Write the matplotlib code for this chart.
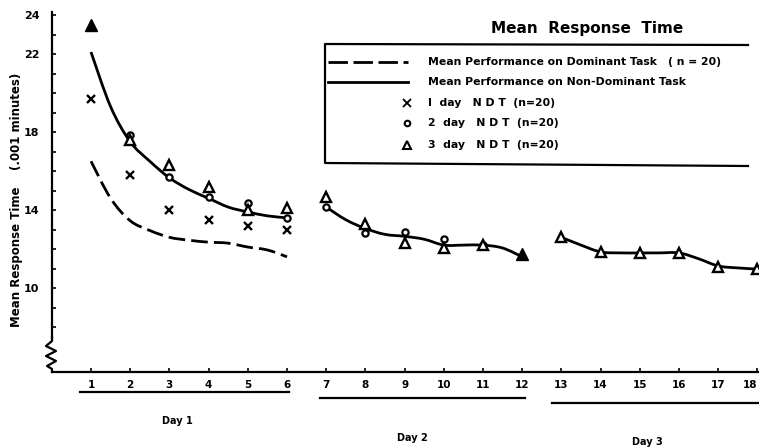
import numpy as np
import matplotlib.pyplot as plt
from matplotlib.lines import Line2D
from matplotlib.path import Path
from matplotlib.patches import PathPatch
from matplotlib import transforms

plt.rcParams['font.family'] = ['DejaVu Sans']

W, H = 759, 448

# readings from the picture
sessions = list(range(1, 19))
one_day_x = [1, 2, 3, 4, 5, 6]
one_day_y = [19.7, 15.8, 14.0, 13.5, 13.2, 13.0]
two_day_x = [2, 3, 4, 5, 6, 7, 8, 9, 10, 11]
two_day_y = [17.85, 15.7, 14.65, 14.35, 13.6, 14.15, 12.8, 12.85, 12.5, 12.2]
three_day_x = [2, 3, 4, 5, 6, 7, 8, 9, 10, 11, 13, 14, 15, 16, 17, 18]
three_day_y = [17.6, 16.3, 15.2, 14.0, 14.1, 14.65, 13.3, 12.3, 12.05, 12.2,
               12.6, 11.85, 11.8, 11.8, 11.1, 10.95]
overlap_x = [1, 12]
overlap_y = [23.5, 11.75]

# curves (every half session)
dom_x = [1, 1.5, 2, 2.5, 3, 3.5, 4, 4.5, 5, 5.5, 6]
dom_y = [16.5, 14.6, 13.45, 12.95, 12.6, 12.45, 12.35, 12.3, 12.1, 11.95, 11.6]
nd1_x = [1, 1.5, 2, 2.5, 3, 3.5, 4, 4.5, 5, 5.5, 6]
nd1_y = [22.1, 19.3, 17.5, 16.5, 15.65, 15.05, 14.6, 14.15, 13.9, 13.7, 13.6]
nd2_x = [7, 7.5, 8, 8.5, 9, 9.5, 10, 10.5, 11, 11.5, 12]
nd2_y = [14.15, 13.5, 13.05, 12.75, 12.65, 12.5, 12.2, 12.2, 12.2, 12.05, 11.6]
nd3_x = [13, 13.5, 14, 14.5, 15, 15.5, 16, 16.5, 17, 17.5, 18]
nd3_y = [12.6, 12.2, 11.85, 11.8, 11.8, 11.8, 11.8, 11.5, 11.13, 11.03, 10.97]

y_ticks = list(range(8, 25))
y_labeled = [10, 14, 18, 22, 24]
days = ['Day 1', 'Day 2', 'Day 3']


def fx(x):
    return x / W


def fy(y):
    return 1 - y / H


def smooth_path(xs, ys):
    # Catmull-Rom through the points, drawn as cubic beziers
    p = np.column_stack([xs, ys]).astype(float)
    pts = np.vstack([p[0], p, p[-1]])
    verts = [p[0]]
    codes = [Path.MOVETO]
    for i in range(1, len(pts) - 2):
        c1 = pts[i] + (pts[i + 1] - pts[i - 1]) / 6
        c2 = pts[i + 1] - (pts[i + 2] - pts[i]) / 6
        verts += [c1, c2, pts[i + 1]]
        codes += [Path.CURVE4] * 3
    return Path(verts, codes)


fig = plt.figure(figsize=(W / 100, H / 100), dpi=100)
ax = fig.add_axes([fx(52), fy(372), fx(W - 52), (372 - 12) / H])
ax.set_xlim(1 - 39 / 39.2, 1 + 668 / 39.2)
ax.set_ylim(24 - 357 / 19.5, 24 + 3 / 19.5)

lw = 2.0
ax.add_patch(PathPatch(smooth_path(dom_x, dom_y), fill=False, ec='black', lw=lw,
                       linestyle=(0, (6, 2.2)), capstyle='butt'))
for cx, cy in [(nd1_x, nd1_y), (nd2_x, nd2_y), (nd3_x, nd3_y)]:
    ax.add_patch(PathPatch(smooth_path(cx, cy), fill=False, ec='black', lw=lw))

ax.plot(one_day_x, one_day_y, 'x', color='black', ms=5.5, mew=1.7, clip_on=False)
ax.plot(two_day_x, two_day_y, 'o', mfc='white', mec='black', ms=4.5, mew=1.6, clip_on=False)
ax.plot(three_day_x, three_day_y, '^', mfc='white', mec='black', ms=6.5, mew=1.7, clip_on=False)
ax.plot(overlap_x, overlap_y, '^', color='black', ms=8, clip_on=False)

# axes styling
for s in ['top', 'right']:
    ax.spines[s].set_visible(False)
ax.spines['left'].set_linewidth(1.6)
ax.spines['bottom'].set_linewidth(1.6)
ax.spines['left'].set_bounds(24 - 323 / 19.5, 24 + 3 / 19.5)

ax.set_yticks(y_ticks)
ax.set_yticklabels([str(v) if v in y_labeled else '' for v in y_ticks],
                   fontsize=8, fontweight='bold')
ax.set_xticks(sessions)
ax.set_xticklabels([str(s) for s in sessions], fontsize=7.5, fontweight='bold')
ax.get_xticklabels()[-1].set_horizontalalignment('right')  # keep "18" inside the edge
ax.tick_params(axis='both', direction='in', length=3, width=1.2)
ax.tick_params(axis='y', pad=9)
ax.tick_params(axis='x', pad=6)

# axis break zigzag
zx = [52, 52, 46, 56, 46, 56, 47, 52, 52]
zy = [337, 341, 346, 351, 356, 361, 366, 369, 372]
fig.add_artist(Line2D([fx(v) for v in zx], [fy(v) for v in zy], color='black', lw=1.6))

fig.text(fx(17), fy(200), 'Mean Response Time    (.001 minutes)', rotation=90,
         ha='center', va='center', fontsize=8.5, fontweight='bold')

# day underlines and labels
bt = transforms.blended_transform_factory(ax.transData, fig.transFigure)
under = [(0.72, 6.05, 392), (6.85, 12.07, 398), (12.75, 18.1, 403)]
day_pos = [(3.2, 421), (9.2, 438), (15.2, 442)]
for (a, b, yy), (dx, dy), name in zip(under, day_pos, days):
    fig.add_artist(Line2D([a, b], [fy(yy), fy(yy)], transform=bt, color='black', lw=1.6))
    fig.text(dx, fy(dy), name, transform=bt, ha='center', va='center',
             fontsize=7, fontweight='bold')

# title and legend box
fig.text(fx(587), fy(29), 'Mean  Response  Time', ha='center', va='center',
         fontsize=11, fontweight='bold')
fig.add_artist(Line2D([fx(748), fx(325), fx(325), fx(748)],
                      [fy(45), fy(44), fy(163), fy(166)], color='black', lw=1.6))

rows = [62, 82, 103, 123, 145]
fig.add_artist(Line2D([fx(328), fx(408)], [fy(rows[0])] * 2, color='black', lw=lw,
                      dashes=(7, 2)))
fig.add_artist(Line2D([fx(328), fx(408)], [fy(rows[1])] * 2, color='black', lw=lw))
fig.add_artist(Line2D([fx(407)], [fy(rows[2])], marker='x', color='black', ms=5.5, mew=1.3))
fig.add_artist(Line2D([fx(407)], [fy(rows[3])], marker='o', mfc='white', mec='black',
                      ms=4, mew=1.5))
fig.add_artist(Line2D([fx(407)], [fy(rows[4])], marker='^', mfc='white', mec='black',
                      ms=5.5, mew=1.5))
labels = ['Mean Performance on Dominant Task   ( n = 20)',
          'Mean Performance on Non-Dominant Task',
          'I  day   N D T  (n=20)',
          '2  day   N D T  (n=20)',
          '3  day   N D T  (n=20)']
for r, t in zip(rows, labels):
    fig.text(fx(428), fy(r), t, ha='left', va='center', fontsize=7.8, fontweight='bold')

fig.savefig('out.png', dpi=100)
